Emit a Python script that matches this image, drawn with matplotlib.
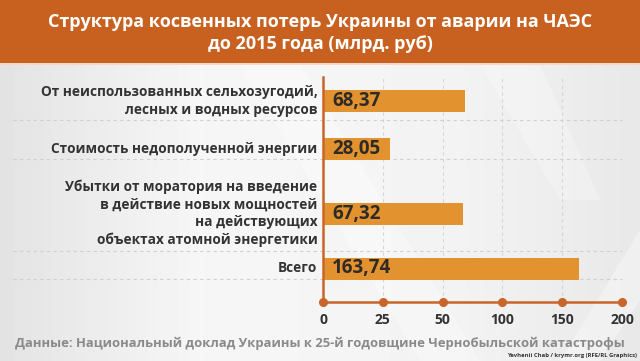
import numpy as np
import matplotlib
matplotlib.use("Agg")
import matplotlib.pyplot as plt
from matplotlib.transforms import blended_transform_factory
from matplotlib.patches import Rectangle, Polygon

# ---- data ----
categories = [
    "От неиспользованных сельхозугодий,\nлесных и водных ресурсов",
    "Стоимость недополученной энергии",
    "Убытки от моратория на введение\nв действие новых мощностей\nна действующих\nобъектах атомной энергетики",
    "Всего",
]
values = [68.37, 28.05, 67.32, 163.74]
value_labels = ["68,37", "28,05", "67,32", "163,74"]
tick_values = [0, 25, 50, 100, 150, 200]
tick_labels = ["0", "25", "50", "100", "150", "200"]

title = "Структура косвенных потерь Украины от аварии на ЧАЭС\nдо 2015 года (млрд. руб)"
source = "Данные: Национальный доклад Украины к 25-й годовщине Чернобыльской катастрофы"
credit = "Yevhenii Chab / krymr.org (RFE/RL Graphics)"

# ---- style ----
W, H = 640, 361
BANNER = "#C8611F"
BAR = "#E2922F"
AXIS = "#C9652A"
DARK = "#333333"
plt.rcParams['font.family'] = ['Open Sans', 'DejaVu Sans']

fig = plt.figure(figsize=(W / 100, H / 100), dpi=100)

# background
bg = fig.add_axes([0, 0, 1, 1], zorder=-10)
bg.set_xlim(0, W)
bg.set_ylim(H, 0)
bg.axis("off")
grad = np.concatenate([np.linspace(0.89, 0.965, 200), np.linspace(0.965, 0.955, 240), np.linspace(0.955, 0.91, 200)])
img = np.tile(grad, (H, 1))
bg.imshow(img, cmap="gray", vmin=0, vmax=1, extent=[0, W, H, 0], aspect="auto")
# decorative swooshes
bg.add_patch(Polygon([[240, 64], [300, 64], [480, 361], [420, 361]], closed=True, color="white", alpha=0.3, lw=0))
bg.add_patch(Polygon([[560, 361], [640, 230], [640, 300], [600, 361]], closed=True, color="white", alpha=0.35, lw=0))
bg.add_patch(Polygon([[480, 64], [540, 64], [600, 200], [560, 200]], closed=True, color="white", alpha=0.25, lw=0))
bg.add_patch(Rectangle((0, 0), W, 63, color=BANNER, lw=0))
bg.add_patch(Rectangle((0, 63), W, 2, color="#f3d9c6", lw=0))

fig.text(0.5, 1 - 33 / H, title, ha="center", va="center", color="white",
         fontsize=13, fontweight="bold", linespacing=1.35)

# ---- chart axes ----
x0, x1, y0, y1 = 323, 622, 77, 302
ax = fig.add_axes([x0 / W, 1 - y1 / H, (x1 - x0) / W, (y1 - y0) / H])
ax.patch.set_alpha(0)

idx = np.arange(len(tick_values), dtype=float)
tv = np.array(tick_values, dtype=float)
ax.set_xscale("function", functions=(lambda v: np.interp(v, tv, idx),
                                     lambda p: np.interp(p, idx, tv)))
ax.set_xlim(0, 200)
ax.set_ylim(y1, y0)

ypos = [101, 149, 213.5, 268.5]
nlines = [c.count("\n") + 1 for c in categories]

ax.barh(ypos, values, height=22, color=BAR, zorder=3)

# gridlines
for t in tick_values[1:]:
    ax.axvline(t, color="#d6d6d6", lw=0.8, ls=(0, (3, 3)), zorder=1)
trans_h = blended_transform_factory(fig.transFigure, ax.transData)
for y, n in zip(ypos, nlines):
    gy = y + n * 9 + 1
    ax.plot([13 / W, x1 / W], [gy, gy], transform=trans_h, color="#d0d0d0",
            lw=0.8, ls=(0, (3, 3)), clip_on=False, zorder=1)

for s in ["top", "right"]:
    ax.spines[s].set_visible(False)
ax.spines["left"].set_color(AXIS)
ax.spines["left"].set_linewidth(1.8)
ax.spines["bottom"].set_color(AXIS)
ax.spines["bottom"].set_linewidth(1.8)
ax.spines["left"].set_zorder(4)

trans_b = blended_transform_factory(ax.transData, ax.transAxes)
ax.plot(tick_values, [0] * len(tick_values), "o", color=AXIS, ms=5.5,
        transform=trans_b, clip_on=False, zorder=5)

ax.set_xticks(tick_values)
ax.set_xticklabels(tick_labels, fontsize=10, fontweight="bold", color=DARK)
ax.tick_params(axis="x", length=0, pad=8)
ax.set_yticks([])

for y, lab in zip(ypos, value_labels):
    ax.annotate(lab, xy=(0, y), xytext=(6.5, 0), textcoords="offset points",
                ha="left", va="center", fontsize=13.5, fontweight="bold",
                color="#2e2a26", zorder=6)

for y, c in zip(ypos, categories):
    ax.annotate(c, xy=(0, y), xytext=(-4, 0), textcoords="offset points",
                ha="right", va="center", multialignment="right",
                fontsize=9.8, fontweight="bold", color=DARK, linespacing=1.3,
                annotation_clip=False)

fig.text(15 / W, 1 - 343 / H, source, ha="left", va="center", color="#8a8a8a",
         fontsize=9.4, fontweight="bold")
fig.text(637 / W, 1 - 356 / H, credit, ha="right", va="center", color="#333333",
         fontsize=4.2, fontweight="bold")

fig.savefig("out.png", dpi=100)
